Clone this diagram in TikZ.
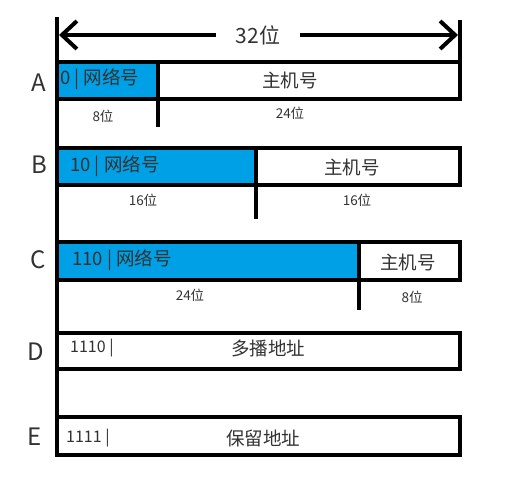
\documentclass[tikz,border=0pt]{standalone}
\usepackage{fontspec}
\setmainfont{Noto Sans CJK SC}
\usetikzlibrary{arrows.meta}
\definecolor{netblue}{RGB}{0,160,230}
\definecolor{txtgray}{RGB}{50,50,50}
\begin{document}
\begin{tikzpicture}[x=1pt,y=-1pt,
  frame/.style={draw=black,line width=4pt},
  boxtext/.style={text=txtgray,inner sep=0pt,font=\fontsize{18.5}{20}\selectfont},
  bittext/.style={text=txtgray,inner sep=0pt,font=\fontsize{13.5}{15}\selectfont},
  classlbl/.style={text=txtgray,inner sep=0pt,font=\fontsize{24}{26}\selectfont},
  barb/.tip={Straight Barb[length=15pt,width=28pt]}
]
\useasboundingbox (0,0) rectangle (506,481);
% blue fills
\fill[netblue] (57,62) rectangle (158,99);
\fill[netblue] (57,148) rectangle (256,185);
\fill[netblue] (57,242) rectangle (359,280);
% boxes
\draw[frame] (57,62) rectangle (460,99);
\draw[frame] (57,148) rectangle (460,185);
\draw[frame] (57,242) rectangle (460,280);
\draw[frame] (57,333) rectangle (460,369);
\draw[frame] (57,417) rectangle (460,455);
% dividers
\coordinate (dAt) at (158,62); \coordinate (dAb) at (158,127);
\coordinate (dBt) at (256,148); \coordinate (dBb) at (256,219);
\coordinate (dCt) at (359,242); \coordinate (dCb) at (359,310);
\draw[frame] (dAt) -- (dAb);
\draw[frame] (dBt) -- (dBb);
\draw[frame] (dCt) -- (dCb);
% left and right guide lines
\coordinate (lt) at (57,17); \coordinate (lb) at (57,455);
\coordinate (rt) at (460,20); \coordinate (rb) at (460,62);
\draw[frame] (lt) -- (lb);
\draw[frame] (rt) -- (rb);
% 32-bit arrow
\coordinate (al) at (59,35); \coordinate (ar) at (458,35);
\draw[frame,barb-barb] (al) -- (ar);
\node[fill=white,inner ysep=2pt,minimum width=84pt,text=txtgray,font=\fontsize{21}{23}\selectfont] (w32) at (258,35) {32位};
% class letters
\node[classlbl] (lA) at (39,83) {A};
\node[classlbl] (lB) at (39,165) {B};
\node[classlbl] (lC) at (38,260) {C};
\node[classlbl] (lD) at (36,352) {D};
\node[classlbl] (lE) at (35,437) {E};
% inner texts
\node[boxtext,anchor=west] (nA) at (60,79) {0 | 网络号};
\node[boxtext] (hA) at (290,80) {主机号};
\node[boxtext,anchor=west] (nB) at (70,166) {10 | 网络号};
\node[boxtext] (hB) at (352,167) {主机号};
\node[boxtext,anchor=west] (nC) at (72,260) {110 | 网络号};
\node[boxtext] (hC) at (408,262) {主机号};
\node[boxtext,anchor=west,font=\fontsize{16}{18}\selectfont] (nD) at (70,348) {1110 |};
\node[boxtext] (tD) at (268,348) {多播地址};
\node[boxtext,anchor=west,font=\fontsize{16}{18}\selectfont] (nE) at (66,438) {1111 |};
\node[boxtext] (tE) at (263,438) {保留地址};
% bit counts
\node[bittext] (bA1) at (103,116) {8位};
\node[bittext] (bA2) at (290,113) {24位};
\node[bittext] (bB1) at (143,200) {16位};
\node[bittext] (bB2) at (357,200) {16位};
\node[bittext] (bC1) at (190,295) {24位};
\node[bittext] (bC2) at (412,297) {8位};
\end{tikzpicture}
\end{document}
